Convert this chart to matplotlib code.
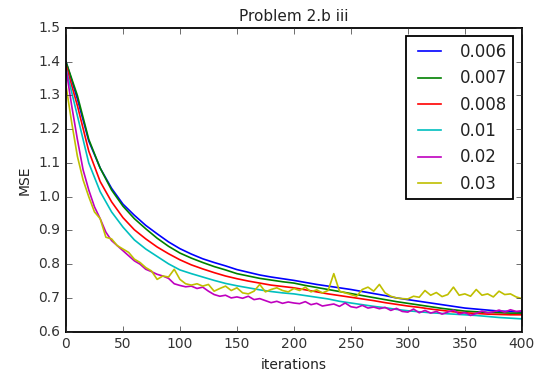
import numpy as np
import matplotlib
matplotlib.use('Agg')
import matplotlib.pyplot as plt

plt.style.use('classic')

# smooth curves, sampled every 10 iterations
it10 = np.arange(0, 401, 10)
mse_006 = [1.40, 1.29, 1.165, 1.085, 1.025, 0.978, 0.945, 0.915, 0.89, 0.866, 0.846,
           0.83, 0.816, 0.805, 0.795, 0.784, 0.776, 0.768, 0.762, 0.757, 0.752,
           0.746, 0.74, 0.735, 0.73, 0.725, 0.719, 0.713, 0.707, 0.70, 0.695,
           0.69, 0.685, 0.68, 0.675, 0.670, 0.667, 0.664, 0.661, 0.66, 0.658]
mse_007 = [1.40, 1.30, 1.17, 1.085, 1.02, 0.972, 0.935, 0.905, 0.877, 0.853, 0.833,
           0.818, 0.805, 0.793, 0.783, 0.772, 0.765, 0.758, 0.753, 0.748, 0.744,
           0.737, 0.731, 0.725, 0.719, 0.713, 0.707, 0.701, 0.695, 0.689, 0.684,
           0.679, 0.674, 0.669, 0.665, 0.661, 0.659, 0.657, 0.656, 0.655, 0.655]
mse_008 = [1.39, 1.27, 1.135, 1.045, 0.985, 0.938, 0.902, 0.875, 0.851, 0.831, 0.813,
           0.798, 0.786, 0.775, 0.765, 0.757, 0.75, 0.744, 0.738, 0.734, 0.73,
           0.724, 0.718, 0.712, 0.707, 0.702, 0.697, 0.692, 0.686, 0.681, 0.676,
           0.672, 0.667, 0.663, 0.659, 0.656, 0.654, 0.652, 0.651, 0.65, 0.65]
mse_01 = [1.38, 1.24, 1.10, 1.015, 0.955, 0.91, 0.872, 0.845, 0.823, 0.801, 0.783,
          0.772, 0.762, 0.752, 0.743, 0.736, 0.73, 0.724, 0.719, 0.715, 0.712,
          0.707, 0.702, 0.697, 0.69, 0.685, 0.68, 0.675, 0.671, 0.666, 0.662,
          0.659, 0.656, 0.654, 0.652, 0.65, 0.648, 0.645, 0.642, 0.64, 0.638]

# noisy curves, sampled every 5 iterations
it5 = np.arange(0, 401, 5)
mse_02 = [1.38, 1.27, 1.17, 1.08, 1.02, 0.97, 0.935, 0.895, 0.87, 0.855, 0.84,
          0.825, 0.81, 0.80, 0.785, 0.778, 0.77, 0.765, 0.758, 0.742, 0.737,
          0.733, 0.735, 0.728, 0.732, 0.72, 0.71, 0.705, 0.708, 0.70, 0.703,
          0.699, 0.705, 0.695, 0.698, 0.692, 0.686, 0.69, 0.684, 0.688, 0.685,
          0.683, 0.689, 0.68, 0.684, 0.676, 0.679, 0.682, 0.675, 0.685, 0.674,
          0.671, 0.678, 0.67, 0.673, 0.668, 0.672, 0.663, 0.669, 0.66, 0.658,
          0.667, 0.656, 0.663, 0.655, 0.66, 0.652, 0.658, 0.664, 0.652, 0.657,
          0.648, 0.654, 0.661, 0.656, 0.659, 0.664, 0.658, 0.665, 0.66, 0.662]
mse_03 = [1.33, 1.22, 1.12, 1.05, 1.00, 0.955, 0.935, 0.88, 0.875, 0.855, 0.845,
          0.835, 0.815, 0.805, 0.79, 0.78, 0.755, 0.765, 0.762, 0.785, 0.755,
          0.742, 0.738, 0.742, 0.735, 0.74, 0.72, 0.728, 0.735, 0.722, 0.73,
          0.715, 0.712, 0.72, 0.74, 0.718, 0.725, 0.73, 0.722, 0.718, 0.728,
          0.722, 0.732, 0.718, 0.724, 0.715, 0.722, 0.772, 0.72, 0.715, 0.71,
          0.705, 0.725, 0.732, 0.72, 0.74, 0.715, 0.705, 0.70, 0.698, 0.697,
          0.705, 0.702, 0.722, 0.708, 0.716, 0.704, 0.71, 0.732, 0.708, 0.712,
          0.705, 0.725, 0.708, 0.712, 0.703, 0.72, 0.71, 0.712, 0.703, 0.698]

fig = plt.figure(figsize=(5.43, 3.71), dpi=100, facecolor='white')
ax = fig.add_axes([0.1215, 0.106, 0.8395, 0.8185])

ax.plot(it10, mse_006, color='b', lw=1.2, label='0.006')
ax.plot(it10, mse_007, color='g', lw=1.2, label='0.007')
ax.plot(it10, mse_008, color='r', lw=1.2, label='0.008')
ax.plot(it10, mse_01, color='c', lw=1.2, label='0.01')
ax.plot(it5, mse_02, color='m', lw=1.2, label='0.02')
ax.plot(it5, mse_03, color='y', lw=1.2, label='0.03')

ax.set_xlim(0, 400)
ax.set_ylim(0.6, 1.5)
ax.set_xticks(np.arange(0, 401, 50))
ax.set_yticks(np.arange(0.6, 1.51, 0.1))
ax.tick_params(labelsize=10, colors='#333333')
for sp in ax.spines.values():
    sp.set_linewidth(1.3)
ax.set_title('Problem 2.b iii', fontsize=11, color='#222222')
ax.set_xlabel('iterations', fontsize=10, color='#222222')
ax.set_ylabel('MSE', fontsize=10, color='#222222')
leg = ax.legend(loc='upper right', fontsize=12)
leg.get_frame().set_linewidth(1.3)
for t in leg.get_texts():
    t.set_color('#222222')

fig.savefig('out.png', dpi=100, facecolor='white')
